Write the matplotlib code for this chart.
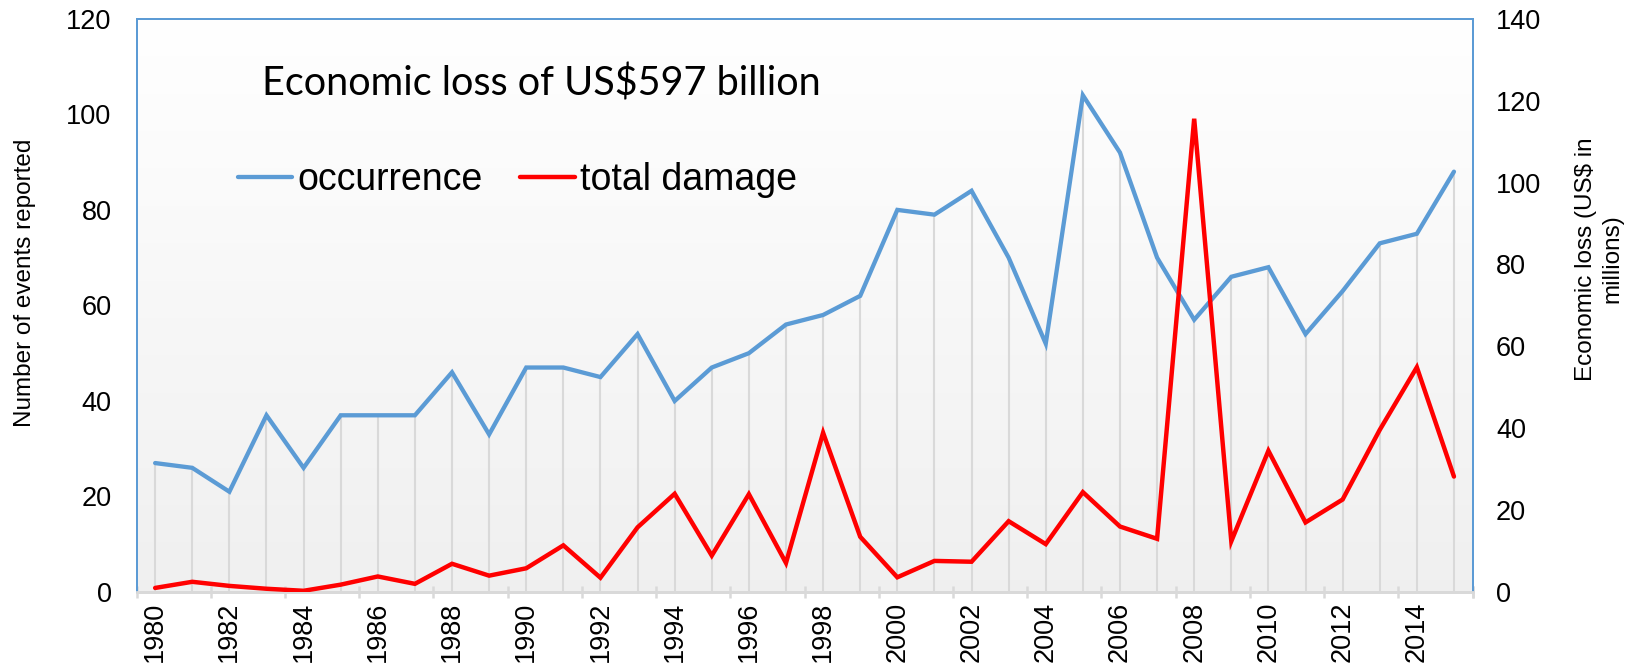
import matplotlib
matplotlib.use("Agg")
import matplotlib.pyplot as plt
import numpy as np
from matplotlib.ticker import FixedLocator, NullFormatter

years = list(range(1980, 2016))
occurrence = [27, 26, 21, 37, 26, 37, 37, 37, 46, 33, 47, 47, 45, 54, 40, 47, 50, 56, 58, 62,
              80, 79, 84, 70, 52, 104, 92, 70, 57, 66, 68, 54, 63, 73, 75, 88]
total_damage = [1.0, 2.5, 1.5, 0.8, 0.3, 1.8, 3.8, 2.0, 6.9, 4.0, 5.8, 11.4, 3.5, 15.8, 24.0, 8.9,
                23.9, 7.1, 38.9, 13.5, 3.6, 7.6, 7.4, 17.3, 11.7, 24.4, 16.0, 13.0, 115.6, 12.4,
                34.5, 17.0, 22.6, 39.6, 54.9, 28.2]
left_ticks = [0, 20, 40, 60, 80, 100, 120]
right_ticks = [0, 20, 40, 60, 80, 100, 120, 140]

BLUE = "#5B9BD5"
RED = "#FF0000"

fig = plt.figure(figsize=(16.26, 6.72), dpi=100)
ax = fig.add_axes([0.0840, 0.119, 0.8216, 0.853])
ax2 = ax.twinx()

x = np.arange(len(years))
ax.set_xlim(-0.5, len(years) - 0.5)
ax.set_ylim(0, 120)
ax2.set_ylim(0, 140)

# gradient background
grad = np.linspace(1.0, 0.94, 256).reshape(-1, 1)
ax.imshow(np.dstack([grad, grad, grad]), extent=[-0.5, len(years) - 0.5, 0, 120],
          aspect="auto", origin="upper", zorder=0)

# drop lines
ax.vlines(x, 0, occurrence, colors="#d9d9d9", linewidth=1.5, zorder=1)

l1, = ax.plot(x, occurrence, color=BLUE, linewidth=3.1, zorder=3,
              solid_joinstyle="miter", solid_capstyle="round", label="occurrence")
ax2.set_zorder(ax.get_zorder() + 1)
ax2.patch.set_visible(False)
l2, = ax2.plot(x, total_damage, color=RED, linewidth=3.2, zorder=3,
               solid_joinstyle="miter", solid_capstyle="round", label="total damage")

# ticks
ax.set_xticks(x[::2])
ax.set_xticklabels([str(y) for y in years[::2]], rotation=90, fontsize=19.5,
                   family="Liberation Sans")
ax.tick_params(axis="x", which="major", length=0, pad=7)
ax.xaxis.set_minor_locator(FixedLocator(np.arange(-0.5, len(years), 2).tolist() + [len(years) - 0.5]))
ax.xaxis.set_minor_formatter(NullFormatter())
ax.tick_params(axis="x", which="minor", length=9, width=1.8, color="#d9d9d9", direction="inout")

ax.set_yticks(left_ticks)
ax.set_yticklabels([str(t) for t in left_ticks], fontsize=19.5, family="Liberation Sans")
ax.tick_params(axis="y", length=0, pad=18)
ax2.set_yticks(right_ticks)
ax2.set_yticklabels([str(t) for t in right_ticks], fontsize=19.5, family="Liberation Sans")
ax2.tick_params(axis="y", length=0, pad=17)

for a in (ax, ax2):
    for s in ("left", "top", "right"):
        a.spines[s].set_color(BLUE)
        a.spines[s].set_linewidth(1.3)
    a.spines["bottom"].set_color("#d9d9d9")
    a.spines["bottom"].set_linewidth(2)

fig.text(0.0154, 0.579, "Number of events reported", rotation=90, ha="center", va="center",
         fontsize=17.5, family="Liberation Sans")
fig.text(0.9834, 0.6146, "Economic loss (US$ in\nmillions)", rotation=90, ha="center", va="center",
         fontsize=17.5, family="Liberation Sans", multialignment="center", linespacing=1.25)

ax.text(0.094, 0.888, "Economic loss of US$597 billion", transform=ax.transAxes,
        fontsize=28.5, family="Lato", va="center", ha="left", zorder=6)

leg = ax2.legend(handles=[l1, l2], loc="center left", bbox_to_anchor=(0.0756, 0.719),
                 ncol=2, frameon=False, prop={"family": "Liberation Sans", "size": 27},
                 handlelength=1.45, handletextpad=0.15, columnspacing=1.0,
                 borderaxespad=0, borderpad=0)

fig.savefig("out.png", dpi=100)
